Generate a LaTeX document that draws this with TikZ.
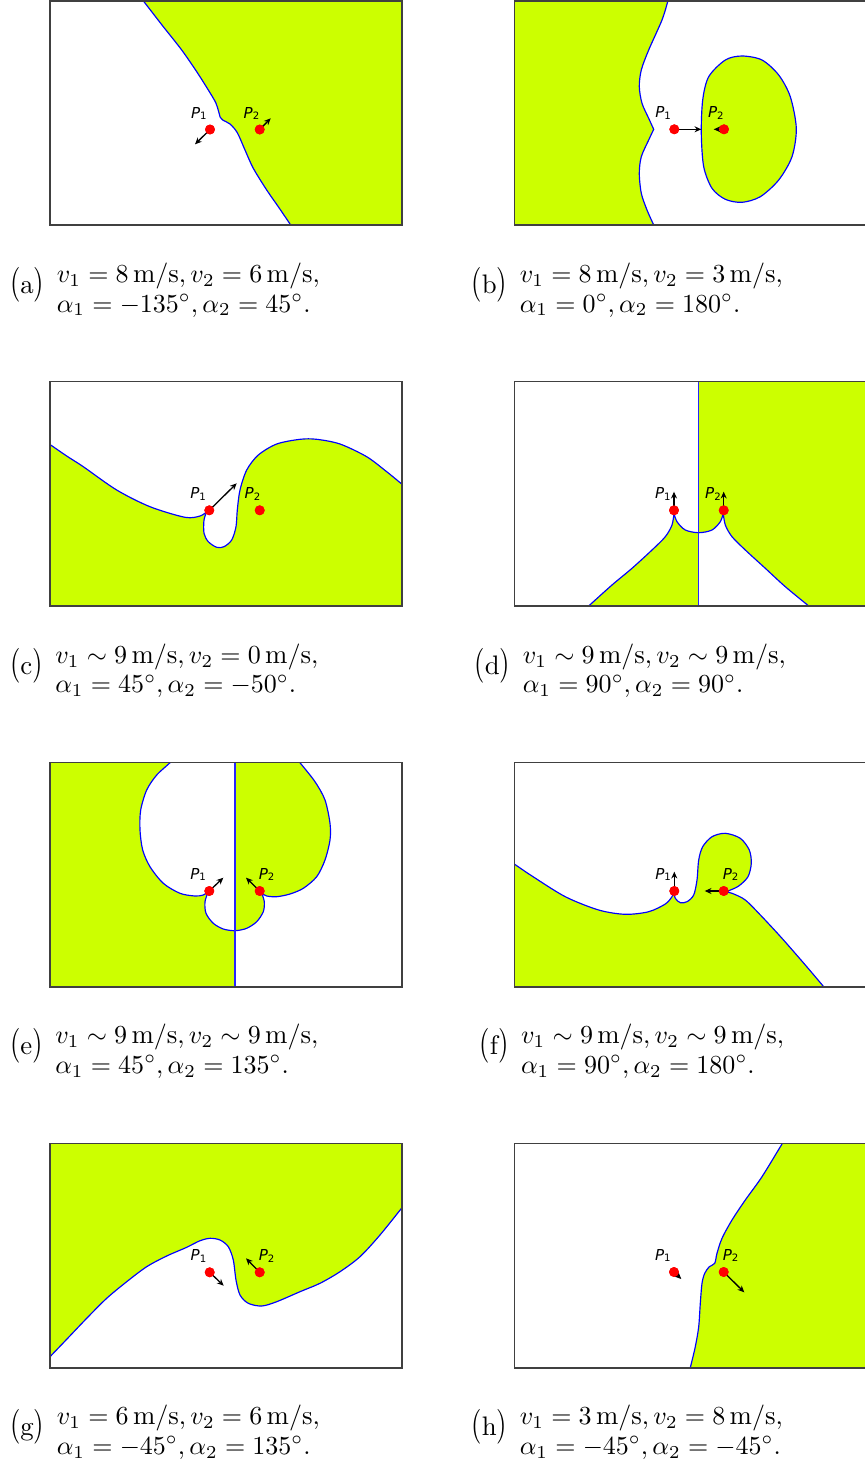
\documentclass[tikz,border=0pt]{standalone}
\usepackage{fontspec}
\usepackage{graphicx}
\usetikzlibrary{calc,arrows.meta}
\newfontfamily\dvs{DejaVu Sans}
\definecolor{zg}{RGB}{204,255,0}
\newcommand\lbl[1]{\scalebox{1}[1.3]{(}#1\scalebox{1}[1.3]{)}}
\newcommand\plab[1]{{\dvs\fontsize{5.8}{6}\selectfont\itshape P\raisebox{-0.5pt}{\upshape\fontsize{3.9}{4}\selectfont #1}}}
\tikzset{
  frame/.style={draw=black!75, line width=0.4pt},
  bnd/.style={draw=blue, line width=0.45pt},
  vline/.style={draw=blue!85!white, line width=0.6pt},
  dotp/.style={circle, fill=red, inner sep=0pt, minimum size=3.8pt},
  vel/.style={-{Stealth[length=2.6pt,width=2.3pt]}, line width=0.5pt, black},
  captxt/.style={inner sep=0pt, anchor=base west, font=\fontsize{10.3}{11.35}\selectfont},
  plabn/.style={inner sep=0pt, anchor=base west},
}
\newcommand\capt[6]{%
  \node[captxt] (#1l) at (#2,#3+11) {\lbl{#4}};
  \node[captxt] (#1a) at ($(#1l.base east)+(11.5,-11)$) {\begin{tabular}[t]{@{}l@{}}#5\\#6\end{tabular}};}
\newcommand\pts[6]{% name, x1,y1, x2,y2, dx of P2 label
  \node[dotp] (#1p) at (#2,#3) {};
  \node[dotp] (#1q) at (#4,#5) {};
  \node[plabn] (#1pl) at ($(#1p.center)+(-19.5,-11.5)$) {\plab{1}};
  \node[plabn] (#1ql) at ($(#1q.center)+(#6,-11.5)$) {\plab{2}};}
\newcommand\pathD{plot[smooth] coordinates {(586,609) (588.7,606) (612,585) (632,568.3) (652,550) (665.3,536.7) (672,525) (674,513.3)} -- plot[smooth] coordinates {(674,513.3) (677,521.7) (685.3,530) (698.7,532.7) (712,530) (720.3,521.7) (723.3,513.3)} -- plot[smooth] coordinates {(723.3,513.3) (725.3,525) (732,536.7) (745.3,550) (765.3,568.3) (785.3,586.7) (808.7,606) (812,609)}}
\newcommand\pathE{plot[smooth] coordinates {(171.8,759) (170,762.7) (156.7,775) (146.7,790) (140.7,810) (140,830) (142.7,850) (150,866.7) (163.3,883.3) (180,893.3) (195,896) (203.3,895) (208.3,891.7)} -- plot[smooth] coordinates {(208.3,891.7) (205,901.7) (206,913.3) (213.3,923.3) (223.3,929) (235,930.7) (246.7,928.3) (256.7,921.7) (263.3,911.7) (264.3,901.7) (261.7,893.3)} -- plot[smooth] coordinates {(261.7,893.3) (266.7,896) (276.7,896.7) (290,894) (303.3,888.3) (316.7,876.7) (325,860) (330,840) (330,823.3) (325,800) (315,781.7) (300,762.7) (297,759)}}
\begin{document}
\begin{tikzpicture}[x=0.3846pt,y=-0.3846pt]
\useasboundingbox (0,0) rectangle (865,1464);
% ---------- (a)
\begin{scope}
\clip (50,1) rectangle (402,225);
\draw[bnd,fill=zg] plot[smooth] coordinates {(141.5,-2) (144,1.7) (150,9.5) (163.3,26.7) (181.7,50) (196.7,71.7) (208.3,90) (216,103.3) (220,116.7)} -- plot[smooth] coordinates {(220,116.7) (222.7,120) (230,124) (237.3,132.7) (245,150) (253.3,168.3) (266.7,190) (278.3,206.7) (290.7,225) (293,228.5)} -- (410,229) -- (410,-3) -- cycle;
\end{scope}
\draw[frame] (50,1) rectangle (402,225);
% ---------- (b)
\begin{scope}
\clip (514.3,1) rectangle (866.3,225);
\draw[bnd,fill=zg] plot[smooth] coordinates {(668.5,-2) (667.7,1.7) (662,20) (648.7,50) (641.3,70) (639.3,86.7) (642,103.3) (648.7,118.3) (653.7,129.3)} -- plot[smooth] coordinates {(653.7,129.3) (648.7,140) (641.3,156.7) (639.3,173.3) (641.3,193.3) (647,210) (653.7,225) (655.2,228.5)} -- (505,229) -- (505,-3) -- cycle;
\draw[bnd,fill=zg] plot[smooth cycle] coordinates {(701.3,133.3) (702.7,100) (708.7,76.7) (725.3,60) (742,56) (762,60) (778.7,75) (790.3,96.7) (796.3,128.3) (792,156.7) (778.7,180) (760.3,196.7) (742,202.3) (725.3,199.3) (712,188.3) (703.7,166.7)};
\end{scope}
\draw[frame] (514.3,1) rectangle (866.3,225);
% ---------- (c)
\begin{scope}
\clip (50,381.7) rectangle (402,606);
\draw[bnd,fill=zg] plot[smooth] coordinates {(46,441.9) (50.7,445) (66.7,456) (83.3,466.7) (116.7,490) (150,506.7) (185,517.3) (200,516) (206.7,511.7)} -- plot[smooth] coordinates {(206.7,511.7) (204,520) (204,533.3) (208.3,541.7) (216.7,547.3) (224,546.7) (231.7,540) (236,526.7) (237.3,510) (240,490) (246.7,470) (258.3,455) (276.7,444) (300,439.3) (316.7,439.3) (340,444) (366.7,456.7) (386.7,471.7) (401.7,484) (405,487)} -- (410,615) -- (40,615) -- cycle;
\end{scope}
\draw[frame] (50,381.7) rectangle (402,606);
% ---------- (d)
\begin{scope}
\clip (514.3,381.7) rectangle (698.7,606);
\fill[zg] \pathD -- cycle;
\end{scope}
\begin{scope}
\clip (698.7,381.7) rectangle (866.3,606);
\fill[zg] (690,375) rectangle (875,615);
\fill[white] \pathD -- cycle;
\end{scope}
\begin{scope}
\clip (514.3,381.7) rectangle (866.3,606);
\draw[bnd] \pathD;
\draw[vline] (698.7,381.7) -- (698.7,606);
\end{scope}
\draw[frame] (514.3,381.7) rectangle (866.3,606);
% ---------- (e)
\begin{scope}
\clip (50,762.7) rectangle (235,987);
\fill[zg] (40,755) rectangle (240,995);
\fill[white] \pathE -- cycle;
\end{scope}
\begin{scope}
\clip (235,762.7) rectangle (402,987);
\fill[zg] \pathE -- cycle;
\end{scope}
\begin{scope}
\clip (50,762.7) rectangle (402,987);
\draw[bnd] \pathE;
\draw[vline] (235,762.7) -- (235,987);
\end{scope}
\draw[frame] (50,762.7) rectangle (402,987);
% ---------- (f)
\begin{scope}
\clip (514.3,762.7) rectangle (866.3,987);
\draw[bnd,fill=zg] plot[smooth] coordinates {(511,862) (514.7,864.3) (532,876) (565.3,896.7) (598.7,910) (625.3,914.3) (648.7,911.7) (665.3,904) (672,896.7) (674,891.7)} -- plot[smooth] coordinates {(674,891.7) (675.3,898.3) (680.3,902.7) (687,901.7) (693.7,895) (697,880) (698.7,860) (702.7,846.7) (712,836.7) (725.3,833.3) (740.3,838.3) (749.3,850) (751.3,863.3) (748,876.7) (738.7,886) (728.7,890.7) (725.3,891.7)} -- plot[smooth] coordinates {(725.3,891.7) (732,893.3) (745.3,900) (762,916.7) (782,938.3) (805.3,965) (823.7,986.7) (826.5,990)} -- (875,995) -- (505,995) -- cycle;
\end{scope}
\draw[frame] (514.3,762.7) rectangle (866.3,987);
% ---------- (g)
\begin{scope}
\clip (50,1143.3) rectangle (402,1368);
\draw[bnd,fill=zg] plot[smooth] coordinates {(47.5,1359.7) (50.7,1356) (66.7,1339.3) (86.7,1318.3) (106.7,1298.3) (126.7,1281.7) (146.7,1266.7) (166.7,1256) (186.7,1247.3) (200,1240.7) (210,1238.3) (220,1240) (228.3,1246.7) (233.3,1260) (236,1280) (240,1295) (248.3,1303.3) (261.7,1306) (276.7,1301.7) (300,1291.7) (320,1283.3) (340,1271.7) (360,1256.7) (380,1235) (402.3,1207.3) (405,1204)} -- (410,1135) -- (40,1135) -- cycle;
\end{scope}
\draw[frame] (50,1143.3) rectangle (402,1368);
% ---------- (h)
\begin{scope}
\clip (514.3,1143.3) rectangle (866.3,1368);
\draw[bnd,fill=zg] plot[smooth] coordinates {(689.5,1371) (690.3,1367.7) (695.3,1346.7) (698.7,1326.7) (700.3,1303.3) (702,1283.3) (704.7,1273.3) (709.3,1266.7) (714.7,1263.3) (717,1253.3) (722,1238.3) (732,1220) (745.3,1200) (762,1176.7) (782,1144) (784.5,1140.5)} -- (875,1140) -- (875,1372) -- cycle;
\end{scope}
\draw[frame] (514.3,1143.3) rectangle (866.3,1368);
% ---------- arrow tips
\coordinate (atp) at (195,144.3);   \coordinate (atq) at (270.7,118.3);
\coordinate (btp) at (701.3,129.3); \coordinate (btq) at (713.7,129.3);
\coordinate (ctp) at (236.7,483.3);
\coordinate (dtp) at (674,491.7);   \coordinate (dtq) at (723.7,491.7);
\coordinate (etp) at (223.3,877.7); \coordinate (etq) at (246,877.7);
\coordinate (ftp) at (674.3,871.7); \coordinate (ftq) at (704.7,891);
\coordinate (gtp) at (223.7,1285.7);\coordinate (gtq) at (246,1258.3);
\coordinate (htp) at (681.3,1279);  \coordinate (htq) at (744.3,1292.3);
% ---------- points and labels
\pts{a}{210}{129.5}{259.7}{129.5}{-16.5}
\pts{b}{674.3}{129.3}{724}{129.3}{-16.5}
\pts{c}{209.3}{510.3}{259.7}{510.3}{-15.5}
\pts{d}{674}{510.3}{723.7}{510.3}{-19}
\pts{e}{209.3}{891}{259.7}{891}{-1.4}
\pts{f}{674.3}{891}{723.7}{891}{-1.4}
\pts{g}{209.7}{1272.3}{259.7}{1272.3}{-1.4}
\pts{h}{674}{1272}{723.7}{1272}{-1.4}
\draw[vel] (ap.center) -- (atp); \draw[vel] (aq.center) -- (atq);
\draw[vel] (bp.center) -- (btp); \draw[vel] (bq.center) -- (btq);
\draw[vel] (cp.center) -- (ctp);
\draw[vel] (dp.center) -- (dtp); \draw[vel] (dq.center) -- (dtq);
\draw[vel] (ep.center) -- (etp); \draw[vel] (eq.center) -- (etq);
\draw[vel] (fp.center) -- (ftp); \draw[vel] (fq.center) -- (ftq);
\draw[vel] (gp.center) -- (gtp); \draw[vel] (gq.center) -- (gtq);
\draw[vel] (hp.center) -- (htp); \draw[vel] (hq.center) -- (htq);
\foreach \n in {a,b,c,d,e,f,g,h} {\fill[red] (\n p.center) circle[radius=1.9pt]; \fill[red] (\n q.center) circle[radius=1.9pt];}
% ---------- captions
\capt{ca}{9.5}{282.5}{a}{$v_1=8\,\mathrm{m/s}, v_2=6\,\mathrm{m/s},$}{$\alpha_1=-135^\circ, \alpha_2=45^\circ.$}
\capt{cb}{471}{282.5}{b}{$v_1=8\,\mathrm{m/s}, v_2=3\,\mathrm{m/s},$}{$\alpha_1=0^\circ, \alpha_2=180^\circ.$}
\capt{cc}{9.5}{663.2}{c}{$v_1\sim9\,\mathrm{m/s}, v_2=0\,\mathrm{m/s},$}{$\alpha_1=45^\circ, \alpha_2=-50^\circ.$}
\capt{cd}{474}{663.2}{d}{$v_1\sim9\,\mathrm{m/s}, v_2\sim9\,\mathrm{m/s},$}{$\alpha_1=90^\circ, \alpha_2=90^\circ.$}
\capt{ce}{9.5}{1043.9}{e}{$v_1\sim9\,\mathrm{m/s}, v_2\sim9\,\mathrm{m/s},$}{$\alpha_1=45^\circ, \alpha_2=135^\circ.$}
\capt{cf}{479}{1043.9}{f}{$v_1\sim9\,\mathrm{m/s}, v_2\sim9\,\mathrm{m/s},$}{$\alpha_1=90^\circ, \alpha_2=180^\circ.$}
\capt{cg}{9.5}{1424.6}{g}{$v_1=6\,\mathrm{m/s}, v_2=6\,\mathrm{m/s},$}{$\alpha_1=-45^\circ, \alpha_2=135^\circ.$}
\capt{ch}{471}{1424.6}{h}{$v_1=3\,\mathrm{m/s}, v_2=8\,\mathrm{m/s},$}{$\alpha_1=-45^\circ, \alpha_2=-45^\circ.$}
\end{tikzpicture}
\end{document}
